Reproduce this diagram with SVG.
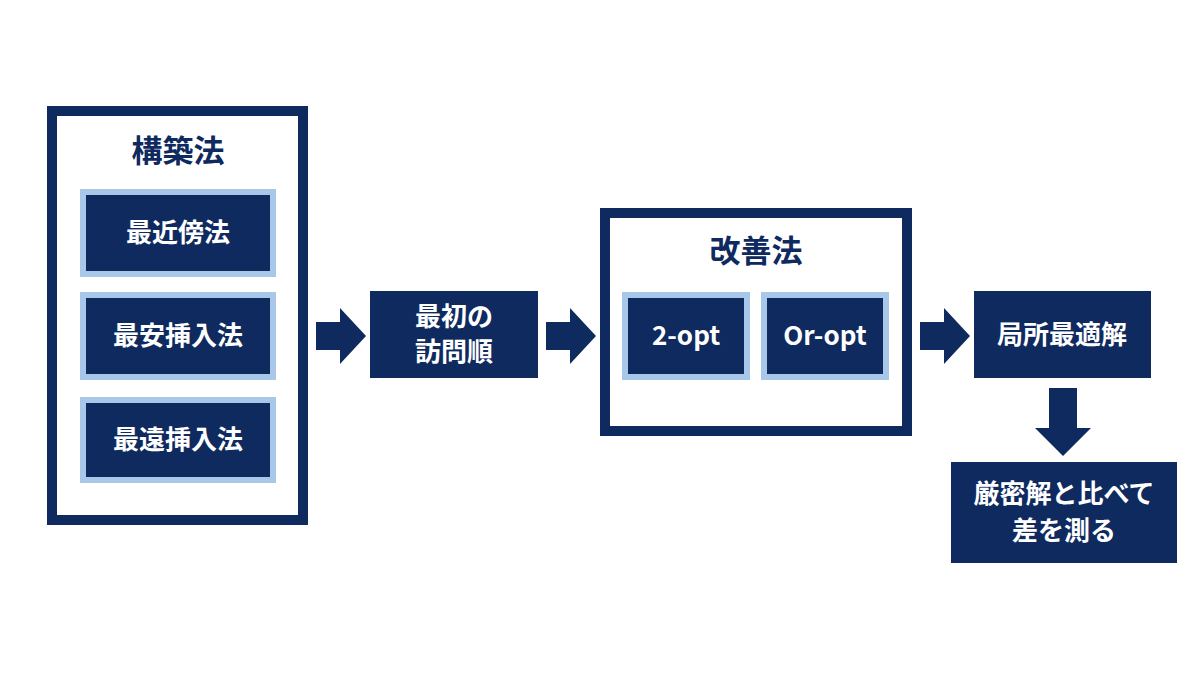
<svg xmlns="http://www.w3.org/2000/svg" width="1200" height="675" viewBox="0 0 1200 675">
<style>
.frame{fill:#fff;stroke:#0f2a5f;stroke-width:10}
.inner{fill:#0f2a5f;stroke:#a9c7e8;stroke-width:6}
.box{fill:#0f2a5f}
.arr{fill:#0f2a5f}
text{font-family:"Noto Sans CJK JP","Noto Sans",sans-serif;font-weight:bold;text-anchor:middle}
.t{fill:#0f2a5f;font-size:31px}
.w{fill:#fff;font-size:26px}
</style>
<rect width="1200" height="675" fill="#fff"/>
<g id="construct">
<rect class="frame" x="52" y="111" width="251" height="409"/>
<text class="t" x="178" y="162">構築法</text>
</g>
<g id="nn"><rect class="inner" x="83" y="192" width="190" height="82"/><text class="w" x="178" y="242">最近傍法</text></g>
<g id="ci"><rect class="inner" x="83" y="295" width="190" height="82"/><text class="w" x="178" y="345">最安挿入法</text></g>
<g id="fi"><rect class="inner" x="83" y="400" width="190" height="80"/><text class="w" x="178" y="449">最遠挿入法</text></g>
<g id="init"><rect class="box" x="370" y="291" width="168" height="87"/><text class="w" x="454" y="326">最初の</text><text class="w" x="454" y="361">訪問順</text></g>
<g id="improve">
<rect class="frame" x="605" y="213" width="302" height="218"/>
<text class="t" x="756" y="262">改善法</text>
</g>
<g id="opt2"><rect class="inner" x="625" y="295" width="122" height="82"/><text class="w" x="686" y="345" font-family="Roboto,sans-serif">2-opt</text></g>
<g id="oropt"><rect class="inner" x="764" y="295" width="122" height="82"/><text class="w" x="825" y="345">Or-opt</text></g>
<g id="local"><rect class="box" x="974" y="291" width="177" height="87"/><text class="w" x="1062" y="344">局所最適解</text></g>
<g id="exact"><rect class="box" x="951" y="462" width="226" height="101"/><text class="w" x="1064" y="503">厳密解と比べて</text><text class="w" x="1064" y="540">差を測る</text></g>
<g id="connectors">
<polygon class="arr" points="316,322 340,322 340,308 366,336 340,364 340,350 316,350"/>
<polygon class="arr" points="546,322 570,322 570,308 596,336 570,364 570,350 546,350"/>
<polygon class="arr" points="920,322 944,322 944,308 970,336 944,364 944,350 920,350"/>
<polygon class="arr" points="1049,388 1077,388 1077,428 1091,428 1063,456 1035,428 1049,428"/>
</g>
</svg>
